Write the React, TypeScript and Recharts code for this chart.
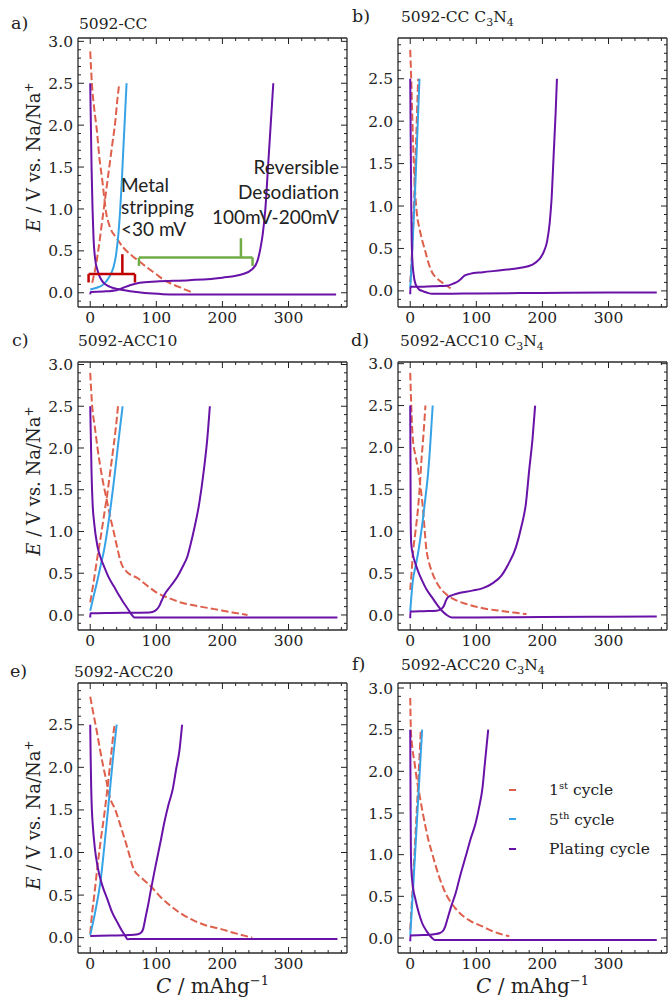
import { LineChart, Line, XAxis, YAxis, ReferenceLine, Legend } from 'recharts';

const SERIF = '"DejaVu Serif", serif';
const SANS = 'Lato, "Open Sans", sans-serif';
const RED = '#de604c';
const BLUE = '#35a3e6';
const PURPLE = '#6812a8';
const INK = '#222';
const FRAME = { stroke: '#2b2b2b', strokeWidth: 1.3 };

// axis ticks
const X_DOMAIN: [number, number] = [-18.5, 388.5];
const X_MAJOR = [0, 100, 200, 300];
const X_TICKS = Array.from({ length: 20 }, (_, i) => i * 20);
const Y_TICKS = Array.from({ length: 32 }, (_, i) => Math.round(i - 1) / 10);
const isMajorY = (v: number) => Math.abs(v * 2 - Math.round(v * 2)) < 1e-6;

// a) 5092-CC   [capacity mAh/g, potential V]
const A_FIRST_DIS = [[0, 2.88], [2.5, 2.5], [6, 2.2], [10, 1.94], [14, 1.6], [18, 1.36], [24, 0.96], [30, 0.78], [40, 0.65], [50, 0.54], [62, 0.45], [75, 0.37], [88, 0.29], [100, 0.22], [112, 0.15], [125, 0.1], [140, 0.05], [155, 0.0]];
const A_FIRST_CHG = [[3, 0.12], [8, 0.3], [13, 0.55], [18, 0.85], [23, 1.15], [28, 1.45], [33, 1.75], [38, 2.05], [41, 2.3], [44, 2.5]];
const A_FIFTH = [[0, 0.04], [10, 0.06], [20, 0.1], [28, 0.18], [35, 0.3], [39, 0.45], [42.6, 0.7], [45, 0.95], [47.6, 1.3], [50, 1.7], [52.5, 2.1], [55, 2.5]];
const A_PLATE_DIS = [[0, 2.5], [1, 2.0], [2, 1.5], [3.5, 1.0], [5, 0.65], [7.5, 0.4], [11, 0.27], [15, 0.18], [20, 0.12], [30, 0.07], [45, 0.04], [70, 0.01], [95, -0.01], [120, -0.02], [200, -0.02], [300, -0.02], [372, -0.02]];
const A_PLATE_CHG = [[0, -0.02], [0.5, 0.01], [20, 0.015], [40, 0.03], [50, 0.06], [60, 0.09], [75, 0.12], [100, 0.135], [150, 0.15], [200, 0.18], [230, 0.22], [245, 0.28], [253, 0.38], [258, 0.55], [261, 0.7], [265, 1.0], [269, 1.5], [273, 2.0], [277, 2.5]];

// b) 5092-CC C3N4
const B_FIRST_DIS = [[0, 2.84], [1.5, 2.5], [3, 2.1], [4.5, 1.7], [6.5, 1.3], [9, 1.0], [11, 0.85], [13, 0.77], [18, 0.6], [23, 0.46], [28, 0.32], [33, 0.22], [40, 0.15], [48, 0.1], [55, 0.06], [61, 0.03]];
const B_FIRST_CHG = [[0, 0.1], [3, 0.5], [6, 1.1], [9, 1.8], [12, 2.5]];
const B_FIFTH = [[0, 0.03], [2, 0.3], [5, 0.8], [8, 1.3], [11, 1.9], [14, 2.5]];
const B_PLATE_DIS = [[0, 2.5], [0.5, 2.0], [1, 1.5], [1.5, 1.0], [2.2, 0.6], [3, 0.4], [5, 0.2], [8, 0.08], [13, 0.02], [18, 0.0], [25, -0.02], [33, -0.035], [50, -0.035], [100, -0.03], [200, -0.025], [300, -0.02], [373, -0.02]];
const B_PLATE_CHG = [[0, -0.04], [0.3, 0.05], [20, 0.05], [40, 0.055], [55, 0.06], [65, 0.085], [72, 0.11], [78, 0.15], [82, 0.18], [90, 0.2], [110, 0.22], [140, 0.245], [165, 0.27], [185, 0.31], [195, 0.37], [202, 0.46], [207, 0.58], [211, 0.8], [214, 1.1], [217, 1.6], [220, 2.1], [222, 2.5]];

// c) 5092-ACC10
const C_FIRST_DIS = [[0, 2.9], [3, 2.5], [7, 2.25], [11, 2.0], [18, 1.65], [26, 1.34], [31, 1.15], [36, 0.98], [41, 0.8], [46, 0.64], [55, 0.52], [72, 0.44], [88, 0.34], [102, 0.26], [120, 0.2], [137, 0.15], [160, 0.11], [188, 0.07], [215, 0.03], [238, 0.0]];
const C_FIRST_CHG = [[0, 0.15], [4, 0.34], [10, 0.65], [16, 0.94], [21, 1.2], [26, 1.46], [30, 1.7], [34, 1.94], [39, 2.26], [42, 2.5]];
const C_FIFTH = [[0, 0.05], [5, 0.22], [11, 0.42], [16, 0.6], [21, 0.78], [26, 1.02], [31, 1.3], [35, 1.55], [39, 1.82], [43, 2.1], [46, 2.3], [49, 2.5]];
const C_PLATE_DIS = [[0, 2.5], [1, 2.1], [2, 1.7], [3.5, 1.35], [6, 1.1], [11, 0.82], [16, 0.68], [21, 0.58], [28, 0.45], [36, 0.34], [44, 0.23], [51, 0.14], [58, 0.06], [63, 0.0], [67, -0.03], [100, -0.03], [200, -0.03], [300, -0.03], [374, -0.03]];
const C_PLATE_CHG = [[0, -0.03], [0.3, 0.02], [30, 0.025], [60, 0.027], [90, 0.03], [98, 0.05], [104, 0.1], [108, 0.17], [112, 0.24], [122, 0.35], [132, 0.46], [140, 0.58], [147, 0.7], [152, 0.85], [157, 1.02], [165, 1.34], [172, 1.74], [177, 2.1], [181, 2.5]];

// d) 5092-ACC10 C3N4
const D_FIRST_DIS = [[0, 2.89], [2, 2.4], [4, 2.1], [8, 1.9], [12, 1.73], [16, 1.5], [19, 1.29], [22, 1.0], [24, 0.81], [28, 0.64], [34, 0.49], [42, 0.36], [54, 0.25], [68, 0.18], [85, 0.13], [110, 0.08], [135, 0.05], [160, 0.025], [176, 0.01]];
const D_FIRST_CHG = [[0, 0.3], [2, 0.5], [4, 0.73], [8, 1.0], [12, 1.29], [15, 1.6], [17, 1.85], [20, 2.15], [23, 2.5]];
const D_FIFTH = [[0, 0.04], [1.5, 0.2], [4, 0.41], [8, 0.58], [11.7, 0.73], [15, 0.9], [19, 1.13], [23, 1.4], [27, 1.69], [30, 2.0], [32, 2.25], [34, 2.5]];
const D_PLATE_DIS = [[0, 2.5], [0.3, 2.0], [0.5, 1.5], [0.7, 1.1], [1.5, 0.85], [4, 0.72], [8, 0.61], [13, 0.5], [18, 0.41], [25, 0.3], [33, 0.21], [40, 0.13], [48, 0.05], [55, 0.0], [63, -0.03], [100, -0.03], [200, -0.025], [300, -0.022], [373, -0.02]];
const D_PLATE_CHG = [[0, -0.04], [0.3, 0.04], [20, 0.045], [40, 0.05], [47, 0.07], [51, 0.11], [54, 0.17], [57, 0.21], [69, 0.25], [94, 0.29], [110, 0.32], [125, 0.38], [138, 0.47], [148, 0.6], [160, 0.81], [168, 1.05], [175, 1.33], [180, 1.73], [185, 2.1], [189, 2.5]];

// e) 5092-ACC20
const E_FIRST_DIS = [[0, 2.83], [5, 2.62], [10, 2.42], [15, 2.2], [20, 2.0], [25, 1.82], [29, 1.67], [38, 1.5], [46, 1.31], [56, 1.06], [66, 0.8], [78, 0.7], [92, 0.6], [106, 0.48], [122, 0.37], [140, 0.27], [157, 0.2], [177, 0.14], [198, 0.1], [220, 0.05], [245, 0.0]];
const E_FIRST_CHG = [[0, 0.05], [3, 0.3], [6, 0.49], [11, 0.84], [16, 1.15], [21, 1.43], [26, 1.75], [31, 2.1], [36, 2.45], [37, 2.5]];
const E_FIFTH = [[0, 0.03], [8, 0.32], [16, 0.69], [23, 1.2], [30, 1.75], [35, 2.15], [40, 2.5]];
const E_PLATE_DIS = [[0, 2.5], [0.7, 2.1], [1.5, 1.75], [2.5, 1.5], [3.6, 1.35], [7, 1.05], [11, 0.84], [18, 0.62], [26, 0.45], [33, 0.3], [41, 0.18], [48, 0.08], [53, 0.02], [56.6, -0.02], [60, -0.015], [100, -0.015], [200, -0.015], [300, -0.015], [374, -0.015]];
const E_PLATE_CHG = [[0, 0.02], [30, 0.025], [60, 0.03], [72, 0.04], [77, 0.06], [80, 0.1], [82, 0.17], [84, 0.25], [88, 0.4], [92, 0.57], [97, 0.77], [102, 0.96], [107, 1.15], [112, 1.35], [118, 1.55], [125, 1.75], [130, 1.98], [135, 2.2], [139, 2.5]];

// f) 5092-ACC20 C3N4
const F_FIRST_DIS = [[0, 2.88], [1, 2.5], [3, 2.3], [6.6, 2.1], [10, 1.9], [14, 1.72], [19, 1.5], [23, 1.34], [28, 1.16], [33, 1.02], [38, 0.88], [43.5, 0.74], [50, 0.6], [58, 0.47], [68, 0.36], [79, 0.27], [92, 0.2], [109, 0.14], [125, 0.08], [140, 0.04], [150, 0.02]];
const F_FIRST_CHG = [[0, 0.1], [4, 0.65], [8, 1.25], [12, 1.85], [16, 2.5]];
const F_FIFTH = [[0, 0.03], [4.5, 0.62], [9, 1.24], [13.5, 1.87], [18, 2.5]];
const F_PLATE_DIS = [[0, 2.5], [0.3, 2.0], [0.6, 1.5], [1, 1.06], [1.5, 0.85], [4, 0.62], [8, 0.46], [13, 0.3], [18, 0.18], [25, 0.08], [33, 0.0], [37, -0.025], [100, -0.025], [200, -0.025], [300, -0.025], [373, -0.025]];
const F_PLATE_CHG = [[0, -0.04], [0.3, 0.03], [20, 0.035], [36, 0.045], [45, 0.06], [50, 0.09], [53, 0.14], [56, 0.22], [62, 0.38], [68.8, 0.54], [76, 0.76], [84, 0.98], [91, 1.18], [99, 1.38], [105, 1.6], [109, 1.78], [113, 2.1], [118, 2.5]];

// brackets drawn on panel a (data coordinates)
const BRACES = [
  { color: '#c00000', from: -2.5, to: 67.7, level: 0.223, foot: 0.123, tipAt: 48.6, tip: 0.46 },
  { color: '#70ad47', from: 73.7, to: 245.6, level: 0.42, foot: 0.32, tipAt: 228, tip: 0.65 },
];

const LEGEND_ITEMS = [
  { color: RED, label: '1', sup: 'st', rest: ' cycle' },
  { color: BLUE, label: '5', sup: 'th', rest: ' cycle' },
  { color: PURPLE, label: 'Plating cycle', sup: '', rest: '' },
];

type PanelDef = {
  id: string; letter: string; name: string; c3n4: boolean;
  plot: [number, number, number, number];
  yDomain: [number, number];
  first: number[][][]; fifth: number[][]; plating: number[][][];
  letterX: number; titleX: number; titleY: number;
};

const PANELS: PanelDef[] = [
  { id: 'a', letter: 'a)', name: '5092-CC', c3n4: false, plot: [78, 38, 347, 307], yDomain: [-0.17, 3.04], first: [A_FIRST_DIS, A_FIRST_CHG], fifth: A_FIFTH, plating: [A_PLATE_DIS, A_PLATE_CHG], letterX: 11, titleX: 79, titleY: 29 },
  { id: 'b', letter: 'b)', name: '5092-CC', c3n4: true, plot: [398, 38, 667, 307], yDomain: [-0.19, 2.98], first: [B_FIRST_DIS, B_FIRST_CHG], fifth: B_FIFTH, plating: [B_PLATE_DIS, B_PLATE_CHG], letterX: 352, titleX: 401, titleY: 22 },
  { id: 'c', letter: 'c)', name: '5092-ACC10', c3n4: false, plot: [78, 362, 347, 630], yDomain: [-0.18, 3.03], first: [C_FIRST_DIS, C_FIRST_CHG], fifth: C_FIFTH, plating: [C_PLATE_DIS, C_PLATE_CHG], letterX: 12, titleX: 78, titleY: 346 },
  { id: 'd', letter: 'd)', name: '5092-ACC10', c3n4: true, plot: [398, 362, 667, 630], yDomain: [-0.18, 3.02], first: [D_FIRST_DIS, D_FIRST_CHG], fifth: D_FIFTH, plating: [D_PLATE_DIS, D_PLATE_CHG], letterX: 351, titleX: 400, titleY: 346 },
  { id: 'e', letter: 'e)', name: '5092-ACC20', c3n4: false, plot: [78, 683, 347, 953], yDomain: [-0.18, 2.99], first: [E_FIRST_DIS, E_FIRST_CHG], fifth: E_FIFTH, plating: [E_PLATE_DIS, E_PLATE_CHG], letterX: 10, titleX: 74, titleY: 677 },
  { id: 'f', letter: 'f)', name: '5092-ACC20', c3n4: true, plot: [398, 683, 667, 953], yDomain: [-0.18, 3.06], first: [F_FIRST_DIS, F_FIRST_CHG], fifth: F_FIFTH, plating: [F_PLATE_DIS, F_PLATE_CHG], letterX: 352, titleX: 401, titleY: 670 },
];

const pts = (arr: number[][]) => arr.map(([c, e]) => ({ c, e }));

const BottomTick = (props: any) => {
  const { x, y, payload } = props;
  const major = X_MAJOR.includes(payload.value);
  return (
    <g>
      <line x1={x} x2={x} y1={y} y2={y - (major ? 6 : 3)} stroke={INK} strokeWidth={1} />
      {major && (
        <text x={x} y={y + 16} textAnchor="middle" fontFamily={SERIF} fontSize={15.5} fill={INK}>
          {payload.value}
        </text>
      )}
    </g>
  );
};

const TopTick = (props: any) => {
  const { x, y, payload } = props;
  const major = X_MAJOR.includes(payload.value);
  return <line x1={x} x2={x} y1={y} y2={y + (major ? 6 : 3)} stroke={INK} strokeWidth={1} />;
};

const LeftTick = (props: any) => {
  const { x, y, payload } = props;
  const major = isMajorY(payload.value);
  return (
    <g>
      <line x1={x} x2={x + (major ? 6 : 3)} y1={y} y2={y} stroke={INK} strokeWidth={1} />
      {major && (
        <text x={x - 5} y={y} dy="0.36em" textAnchor="end" fontFamily={SERIF} fontSize={15.5} fill={INK}>
          {payload.value.toFixed(1)}
        </text>
      )}
    </g>
  );
};

const RightTick = (props: any) => {
  const { x, y, payload } = props;
  const major = isMajorY(payload.value);
  return <line x1={x} x2={x - (major ? 6 : 3)} y1={y} y2={y} stroke={INK} strokeWidth={1} />;
};

const LegendBox = () => (
  <div style={{ fontFamily: SERIF, fontSize: 15.5, color: INK }}>
    {LEGEND_ITEMS.map((it) => (
      <div key={it.label} style={{ display: 'flex', alignItems: 'center', height: 29.5 }}>
        <span style={{ display: 'inline-block', width: 7, height: 0, borderTop: `2px solid ${it.color}`, marginLeft: 4, marginRight: 33 }} />
        <span>
          {it.label}
          {it.sup && <sup style={{ fontSize: 10 }}>{it.sup}</sup>}
          {it.rest}
        </span>
      </div>
    ))}
  </div>
);

// each axis takes 1px of room (an axis of size 0 is not drawn)
const AX = 1;

function Panel({ p }: { p: PanelDef }) {
  const [l, t, r, b] = p.plot;
  const isLeft = l < 200;
  const left = isLeft ? 0 : 340;
  const width = isLeft ? 352 : 328;
  const top = t - 40;
  const height = b - top + 30;
  const margin = {
    left: l - left - AX,
    top: t - top - AX,
    right: left + width - r - AX,
    bottom: top + height - b - AX,
  };
  const yTicks = Y_TICKS.filter((v) => v >= p.yDomain[0] && v <= p.yDomain[1]);
  const common = { xAxisId: 'b', yAxisId: 'l', dataKey: 'e', dot: false, isAnimationActive: false, type: 'monotone' as const, strokeWidth: 2 };

  return (
    <div style={{ position: 'absolute', left, top }}>
      <LineChart width={width} height={height} margin={margin}>
        <XAxis xAxisId="b" dataKey="c" type="number" domain={X_DOMAIN} allowDataOverflow ticks={X_TICKS} interval={0}
          height={AX} tickSize={0} tickMargin={0} tick={BottomTick} tickLine={false} axisLine={FRAME} />
        <XAxis xAxisId="t" orientation="top" dataKey="c" type="number" domain={X_DOMAIN} allowDataOverflow ticks={X_TICKS} interval={0}
          height={AX} tickSize={0} tickMargin={0} tick={TopTick} tickLine={false} axisLine={FRAME} />
        <YAxis yAxisId="l" type="number" domain={p.yDomain} allowDataOverflow ticks={yTicks} interval={0}
          width={AX} tickSize={0} tickMargin={0} tick={LeftTick} tickLine={false} axisLine={FRAME} />
        <YAxis yAxisId="r" orientation="right" type="number" domain={p.yDomain} allowDataOverflow ticks={yTicks} interval={0}
          width={AX} tickSize={0} tickMargin={0} tick={RightTick} tickLine={false} axisLine={FRAME} />

        {p.first.map((d, i) => (
          <Line key={`first-${i}`} {...common} data={pts(d)} name="1st cycle" stroke={RED} strokeDasharray="7.4 3.2" />
        ))}
        <Line {...common} data={pts(p.fifth)} name="5th cycle" stroke={BLUE} />
        {p.plating.map((d, i) => (
          <Line key={`plate-${i}`} {...common} data={pts(d)} name="Plating cycle" stroke={PURPLE} />
        ))}

        {p.id === 'a' && BRACES.flatMap((br, i) => [
          <ReferenceLine key={`h${i}`} xAxisId="b" yAxisId="l" ifOverflow="visible" stroke={br.color} strokeWidth={2.5}
            segment={[{ x: br.from, y: br.level }, { x: br.to, y: br.level }]} />,
          <ReferenceLine key={`l${i}`} xAxisId="b" yAxisId="l" ifOverflow="visible" stroke={br.color} strokeWidth={2.5}
            segment={[{ x: br.from, y: br.level }, { x: br.from, y: br.foot }]} />,
          <ReferenceLine key={`r${i}`} xAxisId="b" yAxisId="l" ifOverflow="visible" stroke={br.color} strokeWidth={2.5}
            segment={[{ x: br.to, y: br.level }, { x: br.to, y: br.foot }]} />,
          <ReferenceLine key={`t${i}`} xAxisId="b" yAxisId="l" ifOverflow="visible" stroke={br.color} strokeWidth={2.5}
            segment={[{ x: br.tipAt, y: br.level }, { x: br.tipAt, y: br.tip }]} />,
        ])}

        {p.id === 'f' && (
          <Legend layout="vertical" align="center" verticalAlign="middle" content={<LegendBox />}
            wrapperStyle={{ left: 165, top: 132, width: 160 }} />
        )}
      </LineChart>
    </div>
  );
}

function Overlay() {
  const txt = { fontFamily: SERIF, fill: INK };
  return (
    <svg width={668} height={1003} style={{ position: 'absolute', left: 0, top: 0, pointerEvents: 'none' }}>
      {PANELS.map((p) => (
        <g key={p.id}>
          <text x={p.letterX} y={p.titleY} fontSize={17.5} {...txt}>{p.letter}</text>
          <text x={p.titleX} y={p.titleY} fontSize={15.5} {...txt}>
            {p.name}
            {p.c3n4 && (
              <>
                {' C'}
                <tspan dy={4} fontSize={11}>3</tspan>
                <tspan dy={-4}>N</tspan>
                <tspan dy={4} fontSize={11}>4</tspan>
              </>
            )}
          </text>
        </g>
      ))}

      {[157, 481, 815].map((cy) => (
        <text key={cy} transform={`translate(40, ${cy}) rotate(-90)`} textAnchor="middle" fontSize={18} {...txt}>
          <tspan fontStyle="italic">E</tspan> / V vs. Na/Na<tspan dy={-7} fontSize={12}>+</tspan>
        </text>
      ))}

      {[212.5, 532.5].map((cx) => (
        <text key={cx} x={cx} y={993} textAnchor="middle" fontSize={20} {...txt}>
          <tspan fontStyle="italic">C</tspan> / mAhg<tspan dy={-8} fontSize={13}>−1</tspan>
        </text>
      ))}

      <g fontFamily={SANS} fontSize={19} fill={INK}>
        <text x={121} y={191.5}>Metal</text>
        <text x={121} y={213.5}>stripping</text>
        <text x={121} y={235.5}>&lt;30 mV</text>
        <text x={339} y={173.5} textAnchor="end">Reversible</text>
        <text x={339} y={198.5} textAnchor="end">Desodiation</text>
        <text x={339} y={223.5} textAnchor="end">100mV-200mV</text>
      </g>
    </svg>
  );
}

export default function App() {
  return (
    <div style={{ position: 'absolute', left: 0, top: 0, width: 668, height: 1003, background: '#fff', overflow: 'hidden' }}>
      {PANELS.map((p) => (
        <Panel key={p.id} p={p} />
      ))}
      <Overlay />
    </div>
  );
}
